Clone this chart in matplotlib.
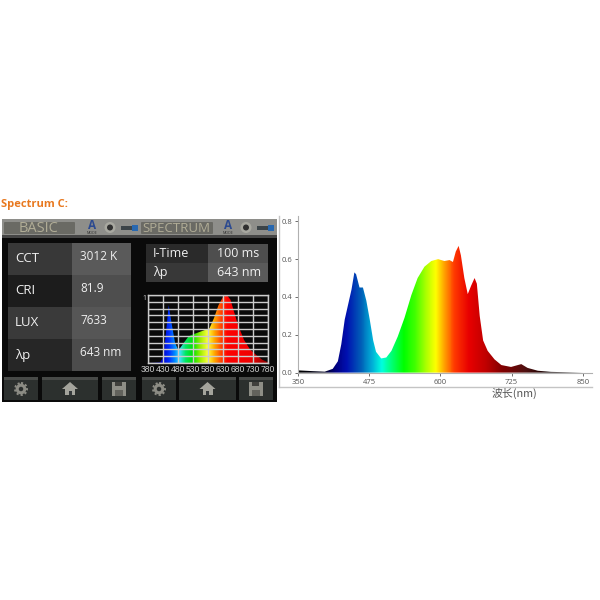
import matplotlib
matplotlib.use('Agg')
import matplotlib.pyplot as plt
import numpy as np
from matplotlib.colors import LinearSegmentedColormap
from matplotlib.patches import Rectangle, Circle, Polygon, FancyBboxPatch

plt.rcParams['font.family'] = ['Open Sans', 'DejaVu Sans']

# measured spectrum (right)
wl = [350, 375, 397, 411, 420, 426, 432, 438, 444, 449, 452, 458, 464, 470, 476, 482, 487, 496, 505,
      514, 525, 537, 549, 560, 572, 584, 596, 607, 616, 622, 627, 632, 636, 642, 648, 654, 660, 664,
      669, 675, 683, 695, 707, 724, 742, 753, 771, 794, 850]
power = [0.012, 0.008, 0.005, 0.02, 0.06, 0.15, 0.28, 0.36, 0.44, 0.53, 0.52, 0.45, 0.45, 0.38, 0.28, 0.17, 0.11, 0.075, 0.08,
         0.115, 0.19, 0.29, 0.41, 0.50, 0.56, 0.59, 0.60, 0.59, 0.595, 0.585, 0.64, 0.67, 0.62, 0.50, 0.415, 0.46, 0.50, 0.47,
         0.30, 0.17, 0.115, 0.07, 0.04, 0.03, 0.045, 0.025, 0.01, 0.004, 0.0]
x_ticks = [350, 475, 600, 725, 850]
y_ticks = [0.0, 0.2, 0.4, 0.6, 0.8]

# meter screen spectrum (left)
meter_wl = [380, 420, 430, 440, 449, 458, 470, 480, 487, 500, 515, 530, 560, 585, 600, 615, 630, 643,
            655, 665, 680, 700, 720, 740, 760, 780]
meter_val = [0.0, 0.01, 0.08, 0.45, 0.85, 0.60, 0.30, 0.20, 0.22, 0.30, 0.39, 0.42, 0.47, 0.51, 0.66, 0.85, 0.97, 1.0,
             0.93, 0.78, 0.56, 0.34, 0.20, 0.12, 0.05, 0.01]
meter_ticks = [380, 430, 480, 530, 580, 630, 680, 730, 780]

basic_labels = ['CCT', 'CRI', 'LUX', 'λp']
basic_values = ['3012 K', '81.9', '7633', '643 nm']
spec_labels = ['I-Time', 'λp']
spec_values = ['100 ms', '643 nm']

# wavelength -> colour
stops = [(350, '#000000'), (395, '#000020'), (415, '#000080'), (435, '#0010b0'), (460, '#0060b8'),
         (480, '#00b0d8'), (496, '#00ffe0'), (515, '#00ff70'), (535, '#00ff00'), (555, '#40ff00'),
         (575, '#b0ff00'), (592, '#ffff00'), (607, '#ffa000'), (625, '#ff3800'), (650, '#e80000'),
         (680, '#c00000'), (710, '#800000'), (750, '#501010'), (790, '#100000'), (850, '#000000')]
spec_cmap = LinearSegmentedColormap.from_list(
    'spec', [((w - 350) / 500.0, c) for w, c in stops])

meter_stops = [(380, '#000040'), (425, '#0000c0'), (450, '#0030ff'), (470, '#0090ff'), (485, '#40e0ff'),
               (505, '#00e860'), (530, '#00e000'), (555, '#a0f000'), (580, '#ffff40'), (600, '#ffb000'),
               (625, '#ff4000'), (645, '#ff0000'), (720, '#f00000'), (780, '#900000')]
meter_cmap = LinearSegmentedColormap.from_list(
    'meter', [((w - 380) / 400.0, c) for w, c in meter_stops])

fig = plt.figure(figsize=(6, 6), dpi=100)
bg = fig.add_axes([0, 0, 1, 1])
bg.set_xlim(0, 600)
bg.set_ylim(600, 0)
bg.axis('off')


def px_axes(x0, y0, x1, y1):
    return fig.add_axes([x0 / 600.0, 1 - y1 / 600.0, (x1 - x0) / 600.0, (y1 - y0) / 600.0])


def box(x0, y0, x1, y1, color, z=1):
    bg.add_patch(Rectangle((x0, y0), x1 - x0, y1 - y0, fc=color, ec='none', zorder=z))


def gear(cx, cy):
    bg.add_patch(Circle((cx, cy), 3.8, fc='none', ec='#8c8c84', lw=2.2, zorder=3))
    bg.add_patch(Circle((cx, cy), 6, fc='none', ec='#8c8c84', lw=1.4, ls=(0, (1.1, 1.1)), zorder=3))


def home(cx, cy):
    bg.add_patch(Polygon([(cx - 8, cy), (cx, cy - 7), (cx + 8, cy)], fc='#a4a49c', ec='none', zorder=3))
    box(cx - 5, cy, cx + 5, cy + 6, '#a4a49c', 3)
    box(cx - 1.5, cy + 2, cx + 1.5, cy + 6, '#34383a', 4)


def floppy(cx, cy):
    box(cx - 7, cy - 7, cx + 7, cy + 7, '#8e8e86', 3)
    box(cx - 4, cy - 7, cx + 3, cy - 3, '#40403c', 4)
    box(cx - 4, cy + 1, cx + 4, cy + 7, '#62625c', 4)


def status_icons(x):
    bg.text(x, 225.5, 'A', color='#2c4a90', fontsize=8.5, fontweight='bold', ha='center', va='center', zorder=3)
    bg.text(x, 233, 'MODE', color='#303030', fontsize=2.6, ha='center', va='center', zorder=3)
    bg.add_patch(Circle((x + 18, 227.5), 5.5, fc='#a8a8a0', ec='none', zorder=3))
    bg.add_patch(Circle((x + 18, 227.5), 3, fc='#303030', ec='none', zorder=3))
    box(x + 29, 226, x + 46, 230, '#3c4448', 3)
    box(x + 40, 224.5, x + 46, 231, '#2868b0', 4)


bg.text(1, 204, 'Spectrum C:', color='#e8781e', fontsize=8, fontweight='bold', ha='left', va='center')

# meter screens
box(2, 219, 277, 402, '#0a0a0a')
box(2, 219, 277, 236, '#8e8e8a')
box(2, 235, 277, 238, '#454545', 2)
bg.plot([278.5, 278.5], [216, 387], color='#c4c4c4', lw=1, zorder=1)
bg.plot([279, 592], [387, 387], color='#c4c4c4', lw=1, zorder=1)
for x0, x1 in [(4, 75), (141, 213)]:
    bg.add_patch(FancyBboxPatch((x0 + 1, 223), x1 - x0 - 2, 10, boxstyle='round,pad=1', fc='#6a6a64', ec='none', zorder=2))
bg.text(38.5, 228.5, 'BASIC', color='#b0ac96', fontsize=10.5, ha='center', va='center', zorder=3)
bg.text(176.5, 228.5, 'SPECTRUM', color='#b0ac96', fontsize=9.5, ha='center', va='center', zorder=3)
status_icons(92)
status_icons(228)

basic_shades = ['#383838', '#1c1c1c', '#3a3a3a', '#262626']
value_shades = ['#5a5a5a', '#4e4e4e', '#565656', '#4c4c4c']
row_h = 32
for i in range(len(basic_labels)):
    top = 243 + i * row_h
    box(8, top, 72, top + row_h, basic_shades[i])
    box(72, top, 131, top + row_h, value_shades[i])
    bg.text(15, top + 16, basic_labels[i], color='#f0f0f0', fontsize=9.5, ha='left', va='center', zorder=3)
    bg.text(80, top + 14, basic_values[i], color='#f0f0f0', fontsize=8.5, ha='left', va='center', zorder=3)
for i in range(len(spec_labels)):
    top = 244 + i * 19
    box(146, top, 208, top + 19, ['#2a2a2a', '#383838'][i])
    box(208, top, 268, top + 19, ['#4e4e4e', '#5a5a5a'][i])
    bg.text(153, top + 9.5, spec_labels[i], color='#f0f0f0', fontsize=9, ha='left', va='center', zorder=3)
    bg.text(217, top + 9.5, spec_values[i], color='#f0f0f0', fontsize=9, ha='left', va='center', zorder=3)

btn = [(4, 38), (42, 98), (102, 136), (142, 176), (179, 236), (239, 273)]
for (x0, x1), draw in zip(btn, [gear, home, floppy, gear, home, floppy]):
    box(x0, 377, x1, 400, '#2c302e')
    box(x0, 377, x1, 380, '#484a48', 2)
    draw((x0 + x1) / 2.0, 389)

# little spectrum on the meter
ax_m = px_axes(148, 295, 268, 363)
ax_m.set_facecolor('#0a0a0a')
ax_m.set_xlim(380, 780)
ax_m.set_ylim(0, 1)
ramp = np.linspace(0, 1, 400).reshape(1, -1)
im = ax_m.imshow(ramp, cmap=meter_cmap, extent=[380, 780, 0, 1], aspect='auto', zorder=1)
poly = ax_m.fill_between(meter_wl, meter_val, 0, color='none')
im.set_clip_path(poly.get_paths()[0], transform=ax_m.transData)
ax_m.set_xticks(meter_ticks)
ax_m.set_yticks(np.arange(0, 1.01, 0.1))
ax_m.grid(True, color='#cccccc', lw=1.0, zorder=2)
ax_m.set_axisbelow(False)
ax_m.tick_params(length=0, labelleft=False, labelbottom=False)
for s in ax_m.spines.values():
    s.set_color('#cccccc')
    s.set_linewidth(1.0)
for t in meter_ticks:
    bg.text(148 + (t - 380) * 0.3, 369.5, str(t), color='#cfcfcf', fontsize=6.2, ha='center', va='center', zorder=3,
            family=['Liberation Sans Narrow', 'Liberation Sans'])
bg.text(144, 299, '1', color='#d0d0d0', fontsize=5, ha='center', va='center', zorder=3)

# big spectrum
ax = px_axes(298, 216, 592, 373)
ramp2 = np.linspace(0, 1, 500).reshape(1, -1)
im2 = ax.imshow(ramp2, cmap=spec_cmap, extent=[350, 850, 0, 1], aspect='auto', zorder=1)
ax.set_xlim(350, 350 + 294 * 125 / 71.2)
ax.set_ylim(-0.002, 156.5 / 189.0)
poly2 = ax.fill_between(wl, power, 0, color='none')
im2.set_clip_path(poly2.get_paths()[0], transform=ax.transData)
ax.set_xticks(x_ticks)
ax.set_yticks(y_ticks)
ax.set_xticklabels([str(t) for t in x_ticks])
ax.set_yticklabels(['%.1f' % t for t in y_ticks])
ax.tick_params(labelsize=5.5, colors='#555555', length=2, width=0.6, pad=2)
ax.spines['top'].set_visible(False)
ax.spines['right'].set_visible(False)
ax.spines['left'].set_color('#b0b0b0')
ax.spines['bottom'].set_color('#b0b0b0')

bg.text(514, 393, '波长(nm)', color='#555555', fontsize=7.8, ha='center', va='center',
        family=['Noto Sans CJK SC', 'DejaVu Sans'])

fig.savefig('out.png', dpi=100)
